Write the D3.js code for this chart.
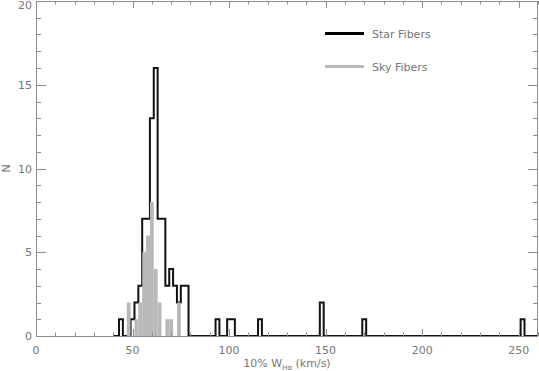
<!DOCTYPE html>
<html>
<head>
<meta charset="utf-8">
<script src="https://cdn.jsdelivr.net/npm/d3@7"></script>
<style>
  body { margin: 0; background: #fff; }
  text { font-family: "DejaVu Sans", sans-serif; fill: #767676; }
</style>
</head>
<body>
<div id="chart"></div>
<script>
// histogram bins are 2 km/s wide, keyed by left edge
var binWidth = 2;
var starLeft  = [43, 49, 51, 53, 55, 57, 59, 61, 63, 65, 67, 69, 71, 73, 75, 77, 93, 99, 101, 115, 147, 169, 251];
var starCount = [ 1,  1,  2,  3,  7,  7, 13, 16,  7,  7,  3,  4,  3,  2,  3,  3,  1,  1,   1,   1,   2,   1,   1];
var skyLeft  = [47, 51, 53, 55, 57, 59, 61, 63, 67, 69, 73];
var skyCount = [ 2,  1,  2,  5,  6,  8,  4,  2,  1,  1,  2];
var xTicks = [0, 50, 100, 150, 200, 250];
var yTicks = [0, 5, 10, 15, 20];
var legendLabels = ["Star Fibers", "Sky Fibers"];

var width = 539, height = 371,
margin = {left: 36, right: 1, top: 1, bottom: 35},
x = d3.scaleLinear().domain([0, 260]).range([margin.left, width - margin.right]),
y = d3.scaleLinear().domain([0, 20]).range([height - margin.bottom, margin.top]),
axisColor = "#8c8c8c",
skyColor = "#b8b8b8";

var svg = d3.select("#chart").append("svg")
.attr("width", width)
.attr("height", height);

svg.append("defs").append("clipPath")
.attr("id", "plotclip")
.append("rect")
.attr("x", x(0)).attr("y", y(20))
.attr("width", x(260) - x(0)).attr("height", y(0) - y(20));

var plot = svg.append("g").attr("clip-path", "url(#plotclip)");

// star fibers: step outline, bins from 40 to the end of the axis
var starPts = [[40, 0]];
for (var e = 41; e < 262; e += binWidth) {
  var idx = starLeft.indexOf(e);
  starPts.push([e, idx === -1 ? 0 : starCount[idx]]);
}
starPts.push([262, 0]);

var stepLine = d3.line()
.x(function(d){ return x(d[0]); })
.y(function(d){ return y(d[1]); })
.curve(d3.curveStepAfter);

plot.append("path")
.datum(starPts)
.attr("fill", "none")
.attr("stroke", "#111")
.attr("stroke-width", 2)
.attr("d", stepLine);

// sky fibers: filled bars drawn over the outline
plot.selectAll(".sky")
.data(skyLeft)
.enter()
.append("rect")
.attr("class", "sky")
.attr("x", function(d){ return x(d); })
.attr("width", function(d){ return x(d + binWidth) - x(d); })
.attr("y", function(d, i){ return y(skyCount[i]); })
.attr("height", function(d, i){ return y(0) - y(skyCount[i]); })
.attr("fill", skyColor);

// axes box
var axes = svg.append("g").attr("class", "axes");
axes.append("rect")
.attr("x", x(0) + 0.5).attr("y", y(20) + 0.5)
.attr("width", x(260) - x(0) - 1).attr("height", y(0) - y(20))
.attr("fill", "none")
.attr("stroke", axisColor);

var xMinor = d3.range(0, 261, 10), yMinor = d3.range(0, 21, 1);

// x ticks bottom and top
xMinor.forEach(function(v){
  var major = v % 50 === 0, len = major ? 7 : 3.5, px = Math.round(x(v)) + 0.5;
  axes.append("line").attr("x1", px).attr("x2", px)
  .attr("y1", y(0)).attr("y2", y(0) - len).attr("stroke", axisColor);
  axes.append("line").attr("x1", px).attr("x2", px)
  .attr("y1", y(20)).attr("y2", y(20) + len).attr("stroke", axisColor);
});
// y ticks left and right
yMinor.forEach(function(v){
  var major = v % 5 === 0, len = major ? 10 : 5, py = Math.round(y(v)) + 0.5;
  axes.append("line").attr("y1", py).attr("y2", py)
  .attr("x1", x(0)).attr("x2", x(0) + len).attr("stroke", axisColor);
  axes.append("line").attr("y1", py).attr("y2", py)
  .attr("x1", x(260)).attr("x2", x(260) - len).attr("stroke", axisColor);
});

svg.selectAll(".xlabel")
.data(xTicks)
.enter()
.append("text")
.attr("class", "xlabel")
.attr("x", function(d){ return x(d); })
.attr("y", 354)
.attr("text-anchor", "middle")
.style("font-size", "11px")
.text(function(d){ return d; });

svg.selectAll(".ylabel")
.data(yTicks)
.enter()
.append("text")
.attr("class", "ylabel")
.attr("x", 32)
.attr("y", function(d){ return Math.max(y(d) + 4, 9); })
.attr("text-anchor", "end")
.style("font-size", "11px")
.text(function(d){ return d; });

// axis titles
var xt = svg.append("text")
.attr("x", 287)
.attr("y", 367)
.attr("text-anchor", "middle")
.style("font-size", "11px");
xt.append("tspan").text("10% W");
xt.append("tspan").attr("dy", 3).style("font-size", "7px").text("Hα");
xt.append("tspan").attr("dy", -3).text(" (km/s)");

svg.append("text")
.attr("transform", "translate(10," + y(10) + ") rotate(-90)")
.attr("text-anchor", "middle")
.style("font-size", "11px")
.text("N");

// legend
var legend = svg.selectAll(".legend")
.data(legendLabels)
.enter()
.append("g")
.attr("class", "legend")
.attr("transform", function(d, i){ return "translate(325," + (33.5 + i * 33) + ")"; });

legend.append("line")
.attr("x1", 0).attr("x2", 39)
.attr("stroke", function(d, i){ return i === 0 ? "#000" : skyColor; })
.attr("stroke-width", 3);

legend.append("text")
.attr("x", 47)
.attr("y", 4)
.style("font-size", "11px")
.text(function(d){ return d; });
</script>
</body>
</html>
